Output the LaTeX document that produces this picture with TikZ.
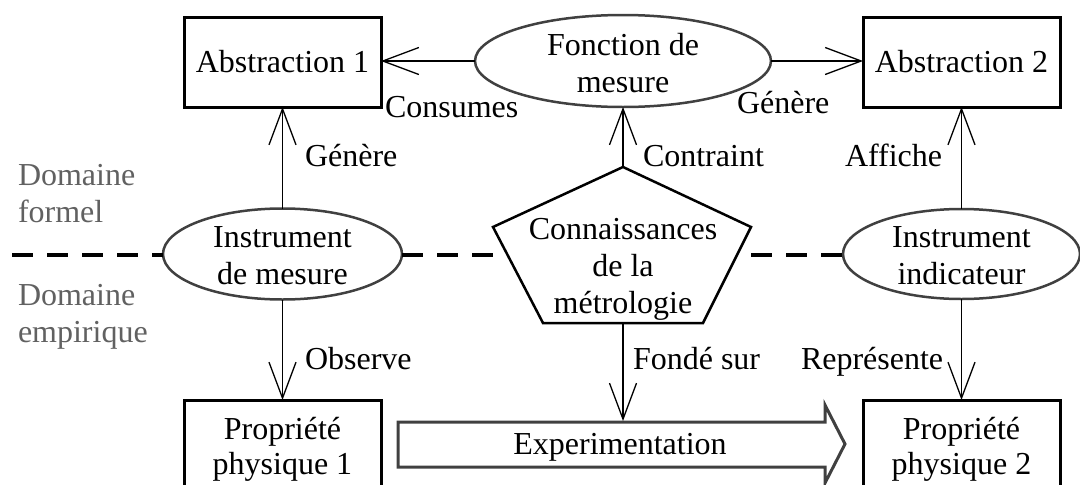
\documentclass[tikz,border=0pt]{standalone}
\usepackage{fontspec}
\setmainfont{Liberation Serif}
\usetikzlibrary{shapes.geometric,arrows.meta}
\begin{document}
\begin{tikzpicture}[x=1pt,y=-1pt,
  every node/.style={font=\fontsize{32}{37}\selectfont, inner sep=0pt, outer sep=0pt},
  box/.style={draw=black, line width=3pt, minimum width=197pt, minimum height=90pt},
  ell/.style={draw=black!75, line width=2.5pt, ellipse},
  txt/.style={align=center},
  conn/.style={line width=1.3pt, -{Straight Barb[length=36pt,width=27pt]}},
  lbl/.style={anchor=base west},
  dom/.style={text=black!62, align=left, anchor=west},
  sep/.style={line width=4pt, dash pattern=on 21pt off 14pt}
]
\useasboundingbox (0,0) rectangle (1080,485);

% boxes
\node[box] (a1) at (282.5,62) {Abstraction 1};
\node[box] (a2) at (961.5,62) {Abstraction 2};
\node[box, minimum height=110pt] (p1) at (282.5,455) {};
\node[box, minimum height=110pt] (p2) at (961.5,455) {};
\node[txt, font=\fontsize{32}{35}\selectfont] (p1t) at (282.5,449) {Propriété\\physique 1};
\node[txt, font=\fontsize{32}{35}\selectfont] (p2t) at (961.5,449) {Propriété\\physique 2};

% ellipses
\node[ell, minimum width=296pt, minimum height=92pt] (fm) at (623,61) {};
\node[txt] (fmt) at (623,63.5) {Fonction de\\mesure};
\node[ell, minimum width=239pt, minimum height=91pt] (im) at (282.5,254) {};
\node[txt] (imt) at (282.5,255.5) {Instrument\\de mesure};
\node[ell, minimum width=237pt, minimum height=90pt] (ii) at (961.5,254) {};
\node[txt] (iit) at (961.5,255.5) {Instrument\\indicateur};

% pentagon
\coordinate (pT) at (623,167);
\coordinate (pR) at (751,227);
\coordinate (pBR) at (703,323);
\coordinate (pBL) at (543,323);
\coordinate (pL) at (493,227);
\coordinate (pB) at (623,323);
\coordinate (pl) at (507,255);
\coordinate (pr) at (737,255);
\draw[line width=2.5pt, line join=miter] (pT) -- (pR) -- (pBR) -- (pBL) -- (pL) -- cycle;
\node[txt] (ck) at (623,269.5) {Connaissances\\de la\\métrologie};

% separator
\coordinate (d0) at (12,255);
\draw[sep] (d0) -- (im.west |- d0);
\draw[sep] (im.east |- d0) -- (pl);
\draw[sep, dash phase=21pt] (pr) -- (ii.west |- d0);

% experimentation arrow
\draw[draw=black!75, line width=3pt, line join=miter]
  (398,422) -- (825,422) -- (825,405) -- (845,444) -- (825,483) -- (825,467) -- (398,467) -- cycle;
\node (exp) at (620,447) {Experimentation};
\coordinate (expt) at (623,421);

% connectors
\draw[conn] (fm.west) -- (a1.east |- fm.west);
\draw[conn] (fm.east) -- (a2.west |- fm.east);
\draw[conn] (pT) -- (fm.south);
\draw[conn] (im.north) -- (a1.south);
\draw[conn] (ii.north) -- (a2.south);
\draw[conn] (im.south) -- (p1.north);
\draw[conn] (ii.south) -- (p2.north);
\draw[conn] (pB) -- (expt);

% labels
\node[lbl] (l1) at (385,117) {Consumes};
\node[lbl] (l2) at (737,113) {Génère};
\node[lbl] (l3) at (305,166) {Génère};
\node[lbl] (l4) at (643,166) {Contraint};
\node[lbl] (l5) at (845,166) {Affiche};
\node[lbl] (l6) at (305,369) {Observe};
\node[lbl] (l7) at (633,369) {Fondé sur};
\node[lbl] (l8) at (801,369) {Représente};

% domains
\node[dom] (df) at (18,193.5) {Domaine\\formel};
\node[dom] (de) at (18,317) {Domaine\\empirique};
\end{tikzpicture}
\end{document}
